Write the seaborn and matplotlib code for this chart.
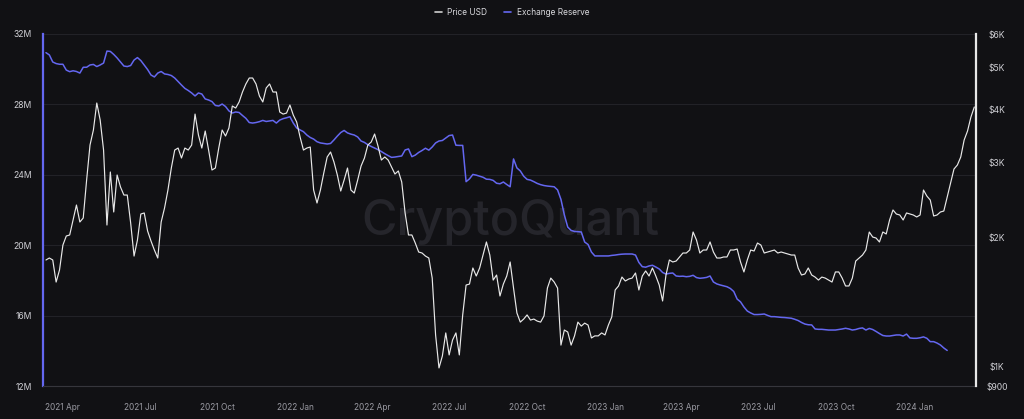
import pandas as pd
import seaborn as sns
import matplotlib.pyplot as plt
import matplotlib.dates as mdates
from matplotlib.lines import Line2D
from matplotlib.ticker import FixedLocator, FixedFormatter, NullLocator, FuncFormatter

plt.switch_backend("Agg")

# Data (one value every 4 days from 2021-03-12)
start_date = "2021-03-12"
step = "4D"

price_usd = [
    1775, 1794, 1775, 1576, 1682, 1924, 2020, 2031, 2202, 2387,
    2178, 2226, 2731, 3298, 3576, 4136, 3774, 3210, 2143, 2852,
    2299, 2806, 2630, 2519, 2519, 2166, 1813, 1977, 2274, 2287,
    2075, 1966, 1873, 1794, 2178, 2349, 2588, 2914, 3210, 3245,
    3075, 3245, 3210, 3298, 3897, 3481, 3245, 3557, 3210, 2883,
    2914, 3245, 3576, 3462, 3615, 4070, 4026, 4159, 4389, 4583,
    4733, 4733, 4583, 4295, 4159, 4485, 4583, 4389, 4389, 3940,
    3897, 3918, 4092, 3876, 3733, 3444, 3210, 3245, 3263, 2588,
    2413, 2588, 2837, 3092, 3176, 3010, 2806, 2574, 2731, 2914,
    2588, 2546, 2731, 2945, 3075, 3298, 3352, 3500, 3280, 3042,
    3092, 3042, 2930, 2821, 2868, 2702, 2287, 2031, 2031, 1945,
    1853, 1843, 1813, 1794, 1610, 1185, 992, 1058, 1198, 1064,
    1153, 1198, 1064, 1320, 1551, 1559, 1700, 1628, 1700, 1823,
    1956, 1823, 1593, 1637, 1462, 1559, 1628, 1756, 1526, 1334,
    1270, 1291, 1320, 1284, 1291, 1277, 1270, 1313, 1526, 1610,
    1576, 1526, 1122, 1217, 1204, 1122, 1179, 1270, 1243, 1263,
    1250, 1166, 1179, 1179, 1198, 1185, 1250, 1306, 1510, 1543,
    1619, 1585, 1602, 1610, 1655, 1510, 1628, 1673, 1628, 1700,
    1628, 1551, 1423, 1637, 1775, 1756, 1765, 1804, 1843, 1843,
    1873, 2064, 1977, 1843, 1873, 1873, 1956, 1853, 1794, 1794,
    1804, 1804, 1873, 1873, 1883, 1756, 1664, 1775, 1873, 1863,
    1945, 1924, 1843, 1853, 1863, 1873, 1843, 1853, 1843, 1833,
    1823, 1823, 1700, 1637, 1646, 1700, 1637, 1619, 1593, 1619,
    1610, 1593, 1576, 1664, 1664, 1610, 1543, 1543, 1610, 1765,
    1794, 1823, 1873, 2064, 2009, 1998, 1956, 2064, 2042, 2202,
    2324, 2274, 2262, 2202, 2287, 2274, 2262, 2238, 2262, 2588,
    2505, 2452, 2250, 2262, 2299, 2311, 2492, 2688, 2898, 2961,
    3092, 3388, 3557, 3835, 4048,
]

# exchange reserve in millions, same dates (series stops earlier)
exchange_reserve_m = [
    30.94, 30.81, 30.41, 30.32, 30.28, 30.28, 29.95, 29.86, 29.91, 29.87,
    29.78, 30.11, 30.11, 30.24, 30.27, 30.15, 30.24, 30.35, 31.03, 31.01,
    30.84, 30.64, 30.41, 30.18, 30.15, 30.21, 30.52, 30.66, 30.49, 30.24,
    29.98, 29.67, 29.56, 29.78, 29.87, 29.73, 29.70, 29.64, 29.50, 29.30,
    29.10, 28.91, 28.79, 28.65, 28.48, 28.65, 28.59, 28.31, 28.25, 28.16,
    27.94, 27.91, 28.02, 27.88, 27.63, 27.51, 27.57, 27.54, 27.37, 27.21,
    26.97, 26.94, 26.97, 27.02, 27.09, 27.03, 27.06, 27.09, 26.94, 27.11,
    27.19, 27.24, 27.30, 26.94, 26.66, 26.55, 26.45, 26.26, 26.12, 26.03,
    25.88, 25.81, 25.78, 25.75, 25.78, 25.98, 26.20, 26.40, 26.52, 26.38,
    26.31, 26.26, 26.15, 25.92, 25.84, 25.71, 25.61, 25.52, 25.43, 25.32,
    25.20, 25.09, 24.99, 25.01, 25.04, 25.07, 25.41, 25.47, 25.03, 25.12,
    25.27, 25.38, 25.51, 25.40, 25.58, 25.81, 25.92, 25.95, 26.09, 26.23,
    26.26, 25.68, 25.67, 25.67, 23.61, 23.77, 24.02, 23.98, 23.92, 23.86,
    23.75, 23.74, 23.68, 23.52, 23.49, 23.59, 23.45, 23.32, 24.90, 24.39,
    24.22, 23.92, 23.74, 23.70, 23.61, 23.51, 23.44, 23.39, 23.36, 23.34,
    23.32, 23.14, 22.60, 21.72, 21.03, 20.84, 20.78, 20.77, 20.75, 20.18,
    20.04, 19.61, 19.39, 19.39, 19.39, 19.39, 19.39, 19.42, 19.44, 19.47,
    19.49, 19.50, 19.50, 19.50, 19.44, 19.02, 18.78, 18.75, 18.82, 18.86,
    18.76, 18.65, 18.45, 18.36, 18.40, 18.42, 18.25, 18.23, 18.24, 18.21,
    18.23, 18.29, 18.16, 18.12, 18.14, 18.17, 18.25, 17.91, 17.80, 17.74,
    17.69, 17.64, 17.54, 17.37, 16.94, 16.78, 16.49, 16.26, 16.15, 16.06,
    16.06, 16.07, 16.09, 16.01, 15.94, 15.94, 15.92, 15.90, 15.89, 15.87,
    15.85, 15.79, 15.72, 15.61, 15.52, 15.48, 15.47, 15.24, 15.22, 15.22,
    15.20, 15.18, 15.18, 15.18, 15.21, 15.24, 15.28, 15.24, 15.18, 15.21,
    15.27, 15.30, 15.18, 15.27, 15.21, 15.10, 14.98, 14.87, 14.84, 14.84,
    14.87, 14.90, 14.90, 14.84, 14.95, 14.73, 14.71, 14.71, 14.74, 14.79,
    14.71, 14.52, 14.52, 14.44, 14.33, 14.16, 14.02,
]

left_ticks = [12, 16, 20, 24, 28, 32]
right_ticks = [900, 1000, 2000, 3000, 4000, 5000, 6000]
right_labels = ["$900", "$1K", "$2K", "$3K", "$4K", "$5K", "$6K"]
series_names = ["Price USD", "Exchange Reserve"]

dates = pd.date_range(start_date, periods=len(price_usd), freq=step)
df_price = pd.DataFrame({"date": dates, "price": price_usd})
df_res = pd.DataFrame({"date": dates[:len(exchange_reserve_m)], "reserve": exchange_reserve_m})

# Style
bg = "#111114"
grid_c = "#222227"
blue = "#6467f0"
white = "#e8e8e8"

sns.set_style("dark")
plt.rcParams["font.family"] = ["Inter", "DejaVu Sans"]

fig = plt.figure(figsize=(10.24, 4.19), dpi=100, facecolor=bg)
ax = fig.add_axes([43 / 1024, 1 - 386 / 419, 933 / 1024, 352 / 419])
ax.set_facecolor(bg)
ax2 = ax.twinx()

sns.lineplot(data=df_res, x="date", y="reserve", ax=ax, color=blue, linewidth=1.1)
sns.lineplot(data=df_price, x="date", y="price", ax=ax2, color=white, linewidth=0.85)

# watermark
ax.text(0.501, 0.429, "CryptoQuant", transform=ax.transAxes, ha="center", va="baseline",
        fontsize=35, fontweight="medium", color="#25252b", zorder=0)

# x axis
ax.set_xlim(pd.Timestamp("2021-03-08 12:00"), pd.Timestamp("2024-03-14"))
ax.xaxis.set_major_locator(mdates.MonthLocator(bymonth=[1, 4, 7, 10]))
ax.xaxis.set_major_formatter(mdates.DateFormatter("%Y %b"))
ax.tick_params(axis="x", length=5, width=0.8, color="#3a3a40", labelcolor="#9a9aa2",
               labelsize=6, pad=7)

# left axis (reserve)
ax.set_ylim(12, 32)
ax.yaxis.set_major_locator(FixedLocator(left_ticks))
ax.yaxis.set_major_formatter(FuncFormatter(lambda v, p: f"{v:.0f}M"))
ax.tick_params(axis="y", length=0, pad=8, labelsize=6.2, labelcolor="#cfcfd4")
ax.grid(axis="y", color=grid_c, linewidth=0.8)
ax.grid(axis="x", visible=False)
ax.set_axisbelow(True)

# right axis (price, log)
ax2.set_yscale("log")
ax2.set_ylim(900, 6000)
ax2.yaxis.set_major_locator(FixedLocator(right_ticks))
ax2.yaxis.set_major_formatter(FixedFormatter(right_labels))
ax2.yaxis.set_minor_locator(NullLocator())
ax2.tick_params(axis="y", length=0, pad=15, labelsize=6.2, labelcolor="#cfcfd4")
for lab in ax2.get_yticklabels():
    lab.set_horizontalalignment("center")
ax2.grid(False)

for a in (ax, ax2):
    a.set_xlabel("")
    a.set_ylabel("")

for s in ["top", "right"]:
    ax.spines[s].set_visible(False)
ax.spines["left"].set_color(blue)
ax.spines["left"].set_linewidth(1.6)
ax.spines["bottom"].set_color("#36363c")
ax.spines["bottom"].set_linewidth(0.8)
for s in ["top", "left", "bottom"]:
    ax2.spines[s].set_visible(False)
ax2.spines["right"].set_color(white)
ax2.spines["right"].set_linewidth(1.6)

# legend
handles = [Line2D([], [], color="#cfcfcf", lw=1.2), Line2D([], [], color=blue, lw=1.2)]
fig.legend(handles, series_names, loc="upper center", bbox_to_anchor=(0.5, 1.0), ncol=2,
           frameon=False, fontsize=6, labelcolor="#d8d8dc", handlelength=0.8,
           handletextpad=0.7, columnspacing=2.0)

plt.savefig("out.png", dpi=100, facecolor=bg)
plt.close()
